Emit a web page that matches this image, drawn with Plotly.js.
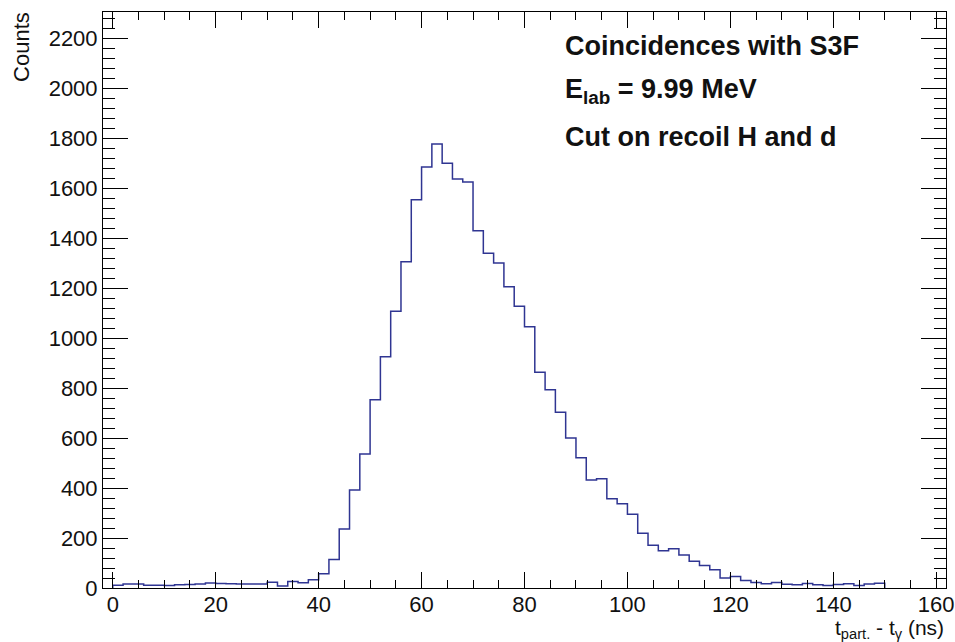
<!DOCTYPE html>
<html>
<head>
<meta charset="utf-8">
<script src="https://cdn.plot.ly/plotly-3.0.1.min.js"></script>
<style>html,body{margin:0;padding:0;background:#fff;}#chart{width:955px;height:642px;}</style>
</head>
<body>
<div id="chart"></div>
<script>
// Histogram: t_part. - t_gamma (ns), bins of 2 ns from 0 to 150
const binLowEdges = [0,2,4,6,8,10,12,14,16,18,20,22,24,26,28,30,32,34,36,38,40,42,44,46,48,50,52,54,56,58,60,62,64,66,68,70,72,74,76,78,80,82,84,86,88,90,92,94,96,98,100,102,104,106,108,110,112,114,116,118,120,122,124,126,128,130,132,134,136,138,140,142,144,146,148];
const binUpperEnd = 150;
const counts = [11,16,16,11,11,10,13,14,16,20,18,17,16,16,16,23,8,26,21,33,57,114,236,392,536,753,925,1107,1305,1553,1684,1776,1699,1636,1624,1429,1339,1300,1205,1127,1045,863,793,703,600,521,432,437,357,337,295,219,171,149,157,132,107,90,73,40,46,30,22,17,22,15,13,18,13,10,14,17,10,16,19];
const xTickVals = [0,20,40,60,80,100,120,140,160];
const yTickVals = [0,200,400,600,800,1000,1200,1400,1600,1800,2000,2200];
const textLines = ["<b>Coincidences with S3F</b>", "<b>E<sub>lab</sub> = 9.99 MeV</b>", "<b>Cut on recoil H and d</b>"];
const xTitle = "t<sub>part.</sub> - t<sub>γ</sub> (ns)";
const yTitle = "Counts";

// step outline (ROOT "HIST" style)
const xs = [binLowEdges[0]].concat(binLowEdges, [binUpperEnd, binUpperEnd]);
const ys = [0].concat(counts, [counts[counts.length-1], 0]);

const font = "Liberation Sans, Arial, Helvetica, sans-serif";
const textColor = '#111';
const trace = {
  x: xs, y: ys, type: 'scatter', mode: 'lines',
  line: {shape: 'hv', color: '#2f3592', width: 1.5},
  hoverinfo: 'skip', showlegend: false
};

const layout = {
  width: 955, height: 642,
  margin: {l: 103, r: 9, t: 12, b: 54},
  paper_bgcolor: '#ffffff', plot_bgcolor: '#ffffff',
  font: {family: font, size: 22, color: textColor},
  xaxis: {
    range: [-1.9, 161.9], tickmode: 'array', tickvals: xTickVals,
    ticks: 'inside', ticklen: 16, tickwidth: 1, tickcolor: '#000',
    mirror: 'ticks', showline: true, linecolor: '#000', linewidth: 1,
    showgrid: false, zeroline: false, ticklabelstandoff: -3,
    minor: {dtick: 5, tick0: 0, ticks: 'inside', ticklen: 8, tickwidth: 1, tickcolor: '#000', showgrid: false},
    tickfont: {family: font, size: 22, color: textColor}
  },
  yaxis: {
    range: [0, 2304], tickmode: 'array', tickvals: yTickVals,
    ticks: 'inside', ticklen: 25, tickwidth: 1, tickcolor: '#000',
    mirror: 'ticks', showline: true, linecolor: '#000', linewidth: 1,
    showgrid: false, zeroline: false,
    minor: {dtick: 40, tick0: 0, ticks: 'inside', ticklen: 12, tickwidth: 1, tickcolor: '#000', showgrid: false},
    tickfont: {family: font, size: 22, color: textColor}
  },
  annotations: [
    {text: textLines[0], xref: 'paper', yref: 'paper', x: 0.546, y: 0.941, xanchor: 'left', yanchor: 'middle', showarrow: false, font: {family: font, size: 27, color: textColor}},
    {text: textLines[1], xref: 'paper', yref: 'paper', x: 0.546, y: 0.862, xanchor: 'left', yanchor: 'middle', showarrow: false, font: {family: font, size: 27, color: textColor}},
    {text: textLines[2], xref: 'paper', yref: 'paper', x: 0.546, y: 0.783, xanchor: 'left', yanchor: 'middle', showarrow: false, font: {family: font, size: 27, color: textColor}},
    {text: xTitle, xref: 'paper', yref: 'paper', x: 1.0, y: -0.072, xanchor: 'right', yanchor: 'middle', showarrow: false, font: {family: font, size: 21, color: textColor}},
    {text: yTitle, xref: 'paper', yref: 'paper', x: -0.097, y: 1.004, xanchor: 'center', yanchor: 'top', textangle: -90, showarrow: false, font: {family: font, size: 22, color: textColor}}
  ]
};

Plotly.newPlot('chart', [trace], layout, {staticPlot: true, displayModeBar: false});
</script>
</body>
</html>
